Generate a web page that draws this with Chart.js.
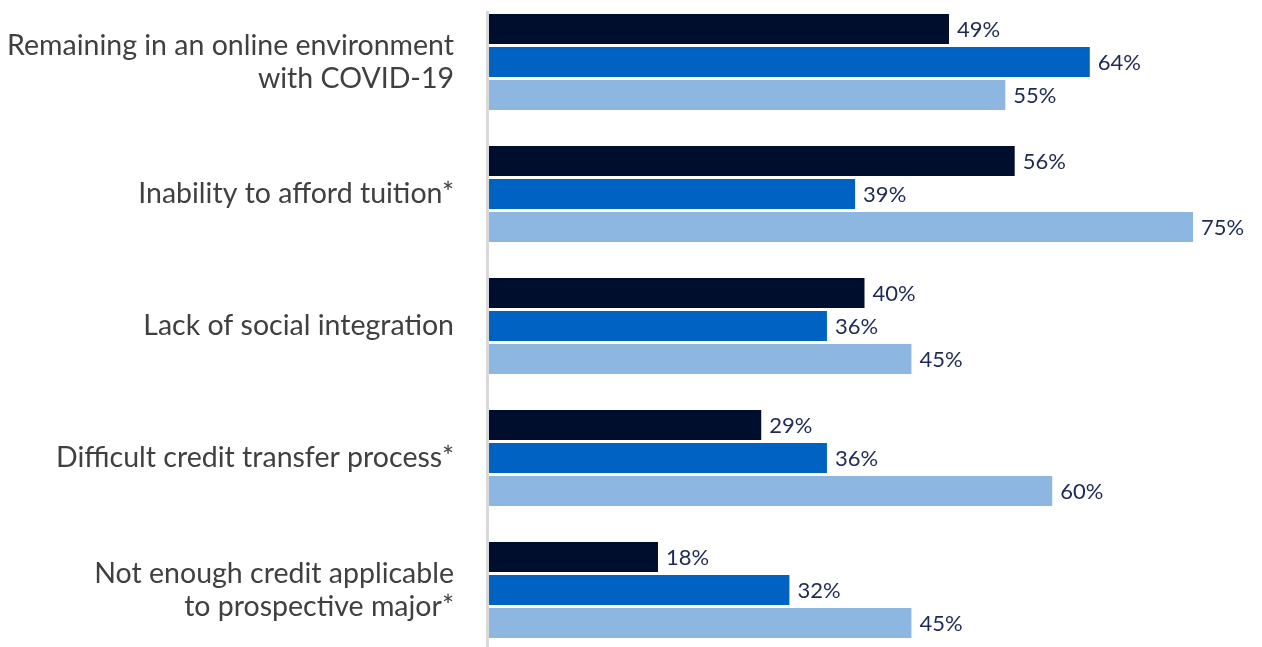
<!DOCTYPE html>
<html>
<head>
<meta charset="utf-8">
<script src="https://cdn.jsdelivr.net/npm/chart.js@4/dist/chart.umd.min.js"></script>
<style>
  html, body { margin: 0; padding: 0; background: #fff; overflow: hidden; }
  #wrap { position: absolute; left: 0; top: -4px; width: 1262px; height: 660px; }
</style>
</head>
<body>
<div id="wrap"><canvas id="chart"></canvas></div>
<script>
// categories (multi-line labels as arrays)
const categories = [
  ['Remaining in an online environment', 'with COVID-19'],
  'Inability to afford tuition*',
  'Lack of social integration',
  'Difficult credit transfer process*',
  ['Not enough credit applicable', 'to prospective major*']
]

// series values (%)
const seriesA = [49, 56, 40, 29, 18]
const seriesB = [64, 39, 36, 36, 32]
const seriesC = [55, 75, 45, 60, 45]

const FONT = 'Lato, "Open Sans", sans-serif'

// value labels at bar ends
const valueLabels = {
  id: 'valueLabels',
  afterDatasetsDraw(chart) {
    const ctx = chart.ctx
    ctx.save()
    ctx.font = '22px ' + FONT
    ctx.fillStyle = '#1e2a55'
    ctx.textAlign = 'left'
    ctx.textBaseline = 'middle'
    chart.data.datasets.forEach((ds, i) => {
      chart.getDatasetMeta(i).data.forEach((bar, j) => {
        ctx.fillText(ds.data[j] + '%', bar.x + 8, bar.y + 1)
      })
    })
    ctx.restore()
  }
}

// grey baseline on the left of the bars
const baseLine = {
  id: 'baseLine',
  beforeDatasetsDraw(chart) {
    const { ctx, chartArea } = chart
    ctx.save()
    ctx.strokeStyle = '#d9d9d9'
    ctx.lineWidth = 3
    ctx.beginPath()
    ctx.moveTo(chartArea.left - 1.5, chartArea.top + 15)
    ctx.lineTo(chartArea.left - 1.5, chartArea.bottom)
    ctx.stroke()
    ctx.restore()
  }
}

new Chart(document.getElementById('chart'), {
  type: 'bar',
  data: {
    labels: categories,
    datasets: [
      { label: 'Series 1', data: seriesA, backgroundColor: '#000e2d' },
      { label: 'Series 2', data: seriesB, backgroundColor: '#0063c3' },
      { label: 'Series 3', data: seriesC, backgroundColor: '#8db6e0' }
    ]
  },
  options: {
    indexAxis: 'y',
    responsive: true,
    maintainAspectRatio: false,
    animation: false,
    categoryPercentage: 0.75,
    barPercentage: 0.909,
    layout: { padding: { left: 0, right: 22, top: 0, bottom: 0 } },
    scales: {
      x: { display: false, min: 0, max: 80 },
      y: {
        grid: { display: false, drawTicks: false },
        border: { display: false },
        ticks: {
          color: '#404040',
          padding: 35,
          font: { family: FONT, size: 28.5, lineHeight: 1.16 }
        },
        afterFit(scale) {
          scale.width = 489
          scale.paddingTop = 0
          scale.paddingBottom = 0
        }
      }
    },
    plugins: {
      legend: { display: false },
      tooltip: { enabled: false }
    }
  },
  plugins: [baseLine, valueLabels]
})
</script>
</body>
</html>
